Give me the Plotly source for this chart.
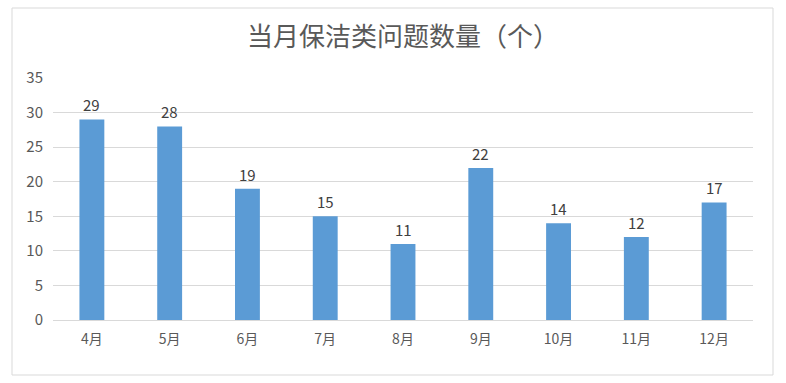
import plotly.graph_objects as go

months = ["4月", "5月", "6月", "7月", "8月", "9月", "10月", "11月", "12月"]
counts = [29, 28, 19, 15, 11, 22, 14, 12, 17]
y_ticks = [0, 5, 10, 15, 20, 25, 30, 35]

fig = go.Figure(
    go.Bar(
        x=months,
        y=counts,
        marker=dict(color="#5B9BD5", line=dict(width=0)),
        width=0.32,
        hoverinfo="x+y",
    )
)

# value labels sitting just above each bar
for m, v in zip(months, counts):
    fig.add_annotation(
        x=m,
        y=v,
        text=str(v),
        showarrow=False,
        yanchor="bottom",
        yshift=2,
        font=dict(family="Noto Sans CJK SC, sans-serif", size=15, color="#404040"),
    )

fig.update_layout(
    width=786,
    height=383,
    margin=dict(l=53, r=33, t=78, b=63),
    paper_bgcolor="white",
    plot_bgcolor="white",
    showlegend=False,
    title=dict(
        text="当月保洁类问题数量（个）",
        x=0.5,
        xref="paper",
        y=0.903,
        yanchor="middle",
        font=dict(family="Noto Sans CJK SC, sans-serif", size=26, color="#595959"),
    ),
    font=dict(family="Noto Sans CJK SC, sans-serif", size=14, color="#595959"),
    xaxis=dict(
        showgrid=False,
        showline=True,
        linecolor="#D9D9D9",
        linewidth=1,
        ticks="",
        tickfont=dict(size=14, color="#595959"),
        ticklabelstandoff=6,
    ),
    yaxis=dict(
        range=[0, 35],
        tickvals=y_ticks,
        showgrid=True,
        gridcolor="#D9D9D9",
        gridwidth=1,
        zeroline=False,
        showline=False,
        ticks="",
        tickfont=dict(size=15, color="#595959"),
        ticklabelstandoff=9,
    ),
    shapes=[
        dict(
            type="rect",
            xref="paper",
            yref="paper",
            x0=(12 - 53) / 700,
            x1=(773 - 53) / 700,
            y0=(320 - 375) / 242,
            y1=(320 - 8) / 242,
            line=dict(color="#D9D9D9", width=1),
            fillcolor="rgba(0,0,0,0)",
            layer="below",
        )
    ],
)

fig.write_html("out.html")
